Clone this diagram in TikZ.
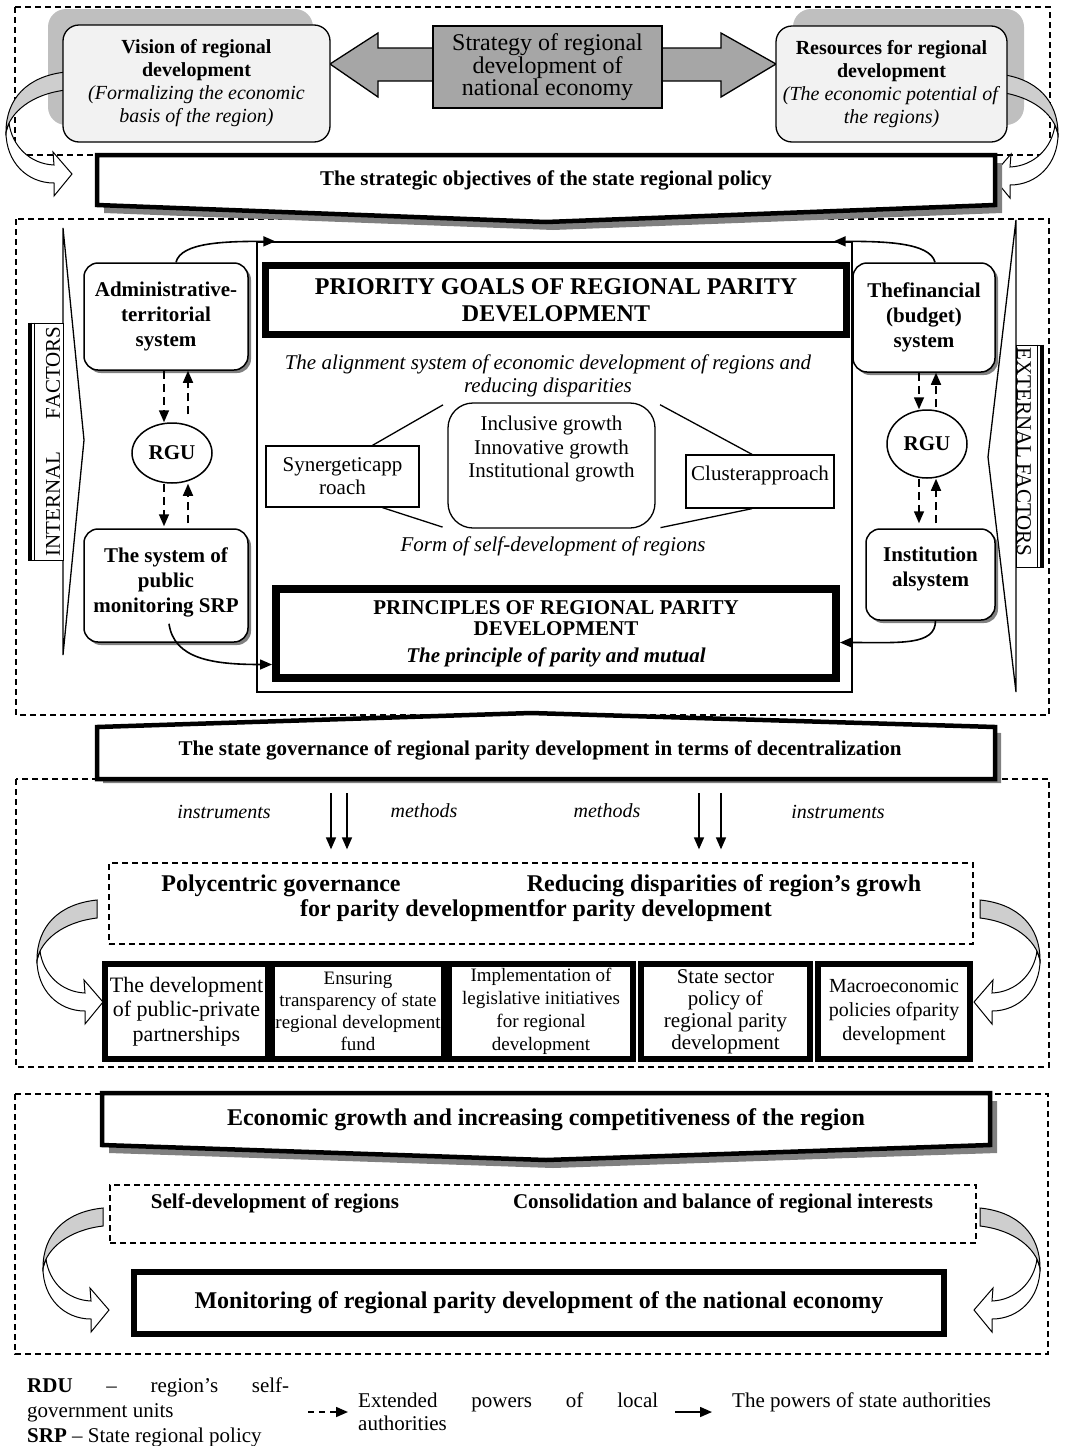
\documentclass[tikz,border=0pt]{standalone}
\usepackage{fontspec}
\setmainfont{Liberation Serif}
\usepackage{xcolor}
\usepackage{tikz}
\usetikzlibrary{arrows.meta,shadows,shapes.geometric}
\definecolor{panelgray}{RGB}{242,242,242}
\definecolor{blobgray}{RGB}{191,191,191}
\definecolor{blockgray}{RGB}{166,166,166}
\definecolor{curlgray}{RGB}{206,206,206}
\definecolor{shadowgray}{RGB}{128,128,128}

\tikzset{
  dashframe/.style={draw, dash pattern=on 6pt off 4pt, line width=1.3pt},
  softbox/.style={draw, fill=panelgray, rounded corners=16pt, line width=1.3pt, align=center, font=\fontsize{20}{23}\selectfont},
  unitbox/.style={draw, fill=white, rounded corners=14pt, line width=1.5pt, align=center, font=\bfseries\fontsize{21}{25}\selectfont, drop shadow={shadow xshift=3pt, shadow yshift=-3pt, fill=shadowgray, opacity=1}},
  rguoval/.style={draw, ellipse, fill=white, line width=1.5pt, inner sep=0pt, font=\bfseries\fontsize{21}{21}\selectfont},
  heavybox/.style={draw, fill=white, line width=6pt, align=center},
  thinbox/.style={draw, line width=1.3pt, align=center, font=\fontsize{21}{23}\selectfont},
  chevronbox/.style={draw, fill=white, line width=4.5pt},
  powerarrow/.style={line width=1.6pt, -{Triangle[length=12pt,width=10pt]}},
  localarrow/.style={powerarrow, dash pattern=on 8pt off 5pt},
  bendarrow/.pic={
    \draw[fill=white, line width=1pt] (-66,-42) .. controls (-66,-12) and (-45,9) .. (-18,9) -- (-18,22) -- (0,0) -- (-19,-22) -- (-18,-9) .. controls (-42,-10) and (-60,-28) .. (-63,-51) -- cycle;
    \draw[fill=curlgray, line width=1pt] (-6,-102) .. controls (-45,-98) and (-66,-75) .. (-66,-42) .. controls (-62,-62) and (-40,-80) .. (-6,-84) -- cycle;
  }
}

\begin{document}
\begin{tikzpicture}[x=1pt, y=-1pt]
\useasboundingbox (0,0) rectangle (1066,1446);

% Dashed frames of the four blocks
\draw[dashframe] (15,7) rectangle (1050,155);
\draw[dashframe] (16,219) rectangle (1049,715);
\draw[dashframe] (16,779) rectangle (1049,1067);
\draw[dashframe] (15,1094) rectangle (1048,1354);

% Strategy block
\fill[blobgray, rounded corners=18pt] (48,9) rectangle (313,125);
\fill[blobgray, rounded corners=18pt] (793,9) rectangle (1024,125);
\pic at (72,174) {bendarrow};
\pic[xscale=-1] at (992,176) {bendarrow};
\draw[fill=blockgray, line width=1.3pt] (330,64) -- (378,33) -- (378,48) -- (721,48) -- (721,33) -- (776,64) -- (721,97) -- (721,81) -- (378,81) -- (378,97) -- cycle;
\node[softbox, minimum width=267, minimum height=117] (vision) at (196.5,83.5) {\textbf{Vision of regional}\\\textbf{development}\\\textit{(Formalizing the economic}\\\textit{basis of the region)}};
\node[softbox, minimum width=231, minimum height=116] (resources) at (891.5,84) {\textbf{Resources for regional}\\\textbf{development}\\\textit{(The economic potential of}\\\textit{the regions)}};
\node[draw, fill=blockgray, line width=1.3pt, minimum width=229, minimum height=82, align=center, font=\fontsize{24}{22}\selectfont] (strategy) at (547.5,67) {Strategy of regional\\development of\\national economy};

% Strategic objectives
\fill[shadowgray] (104,163) -- (1002,163) -- (1002,213) -- (553,230) -- (104,213) -- cycle;
\draw[chevronbox] (97,155) -- (995,155) -- (995,205) -- (546,222) -- (97,205) -- cycle;
\node[font=\bfseries\fontsize{21}{23}\selectfont] (objectives) at (546,180) {The strategic objectives of the state regional policy};

% Internal and external factors
\draw[line width=1.3pt] (63,228) -- (84,440) -- (63,655) -- cycle;
\node[draw, fill=white, line width=1pt, minimum width=34, minimum height=237] (internal) at (46,441.5) {};
\draw[line width=3.5pt] ([xshift=1.5pt]internal.north west) -- ([xshift=1.5pt]internal.south west);
\draw[line width=1pt] ([xshift=6pt]internal.north west) -- ([xshift=6pt]internal.south west);
\node[rotate=90, font=\fontsize{21}{21}\selectfont] (internaltext) at (53,441.5) {\makebox[230pt]{INTERNAL\hfill FACTORS}};
\draw[line width=1.3pt] (1016,220) -- (988,457) -- (1016,692) -- cycle;
\node[draw, fill=white, line width=1pt, minimum width=27, minimum height=222] (external) at (1029.5,456) {};
\draw[line width=3.5pt] ([xshift=-1.5pt]external.north east) -- ([xshift=-1.5pt]external.south east);
\draw[line width=1pt] ([xshift=-6pt]external.north east) -- ([xshift=-6pt]external.south east);
\node[rotate=-90, font=\fontsize{21}{21}\selectfont] (externaltext) at (1024,452) {EXTERNAL FACTORS};

% Core of the concept
\node[draw, line width=1.3pt, minimum width=595, minimum height=450] (core) at (554.5,467) {};
\node[heavybox, line width=7pt, minimum width=581, minimum height=69, font=\bfseries\fontsize{24}{27}\selectfont] (priority) at (556,300) {PRIORITY GOALS OF REGIONAL PARITY\\DEVELOPMENT};
\node[align=center, font=\itshape\fontsize{21}{23}\selectfont] (alignment) at (548,376) {The alignment system of economic development of regions and\\reducing disparities};
\node[thinbox, minimum width=153, minimum height=61] (synergy) at (342.5,476.5) {Synergeticapp\\roach};
\node[draw, line width=1.3pt, rounded corners=25pt, minimum width=207, minimum height=125] (growth) at (551.5,465.5) {};
\node[align=center, font=\fontsize{21}{23.5}\selectfont] (growthtext) at (551.5,449) {Inclusive growth\\Innovative growth\\Institutional growth};
\node[thinbox, minimum width=148, minimum height=53] (cluster) at (760,481.5) {};
\node[font=\fontsize{21}{23}\selectfont] (clustertext) at (760,475) {Clusterapproach};
\draw[line width=1.3pt, shorten >=5pt] ([xshift=30pt]synergy.north) -- (growth.north west);
\draw[line width=1.3pt, shorten >=5pt] ([xshift=40pt]synergy.south) -- (growth.south west);
\draw[line width=1.3pt, shorten >=5pt] ([xshift=-8pt]cluster.north) -- (growth.north east);
\draw[line width=1.3pt, shorten >=5pt] ([xshift=-8pt]cluster.south) -- (growth.south east);
\node[font=\itshape\fontsize{21}{23}\selectfont] (selfform) at (553,546) {Form of self-development of regions};
\node[heavybox, line width=8pt, minimum width=560, minimum height=89, font=\bfseries\fontsize{21}{21}\selectfont] (principles) at (556,633.5) {PRINCIPLES OF REGIONAL PARITY\\DEVELOPMENT\\[6pt]\textit{The principle of parity and mutual}};

% Units of the left side
\node[unitbox, minimum width=164, minimum height=107] (admin) at (166,316.5) {Administrative-\\territorial\\system};
\node[rguoval, minimum width=80, minimum height=60] (rguleft) at (172,453) {RGU};
\node[unitbox, minimum width=164, minimum height=113] (monitor) at (166,585.5) {The system of\\public\\monitoring SRP\\[-14pt]};
\draw[localarrow] ([xshift=-2pt]admin.south) -- ([xshift=-8pt]rguleft.north);
\draw[localarrow] ([xshift=16pt,yshift=8pt]rguleft.north) -- ([xshift=22pt]admin.south);
\draw[localarrow] ([xshift=-8pt]rguleft.south) -- ([xshift=-2pt,yshift=2pt]monitor.north);
\draw[localarrow] ([xshift=22pt,yshift=5pt]monitor.north) -- ([xshift=16pt]rguleft.south);
\draw[powerarrow] ([xshift=10pt]admin.north) .. controls +(5,-20) and +(-50,0) .. ([xshift=19pt]core.north west);
\draw[powerarrow] ([xshift=3pt,yshift=19pt]monitor.south) .. controls +(5,35) and +(-60,0) .. ([yshift=-31pt]principles.west);

% Units of the right side
\node[unitbox, minimum width=142, minimum height=109] (finance) at (924,317.5) {Thefinancial\\(budget)\\system};
\node[rguoval, minimum width=80, minimum height=68] (rguright) at (927,444) {RGU};
\node[unitbox, minimum width=129, minimum height=91] (institution) at (930.5,574.5) {Institution\\alsystem\\[-10pt]};
\draw[localarrow] ([xshift=-5pt]finance.south) -- ([xshift=-8pt]rguright.north);
\draw[localarrow] ([xshift=9pt,yshift=2pt]rguright.north) -- ([xshift=12pt]finance.south);
\draw[localarrow] ([xshift=-8pt]rguright.south) -- ([xshift=-11.5pt,yshift=5pt]institution.north);
\draw[localarrow] ([xshift=5.5pt,yshift=5pt]institution.north) -- ([xshift=9pt]rguright.south);
\draw[powerarrow] ([xshift=11pt]finance.north) .. controls +(-5,-20) and +(50,0) .. ([xshift=-19pt]core.north east);
\draw[powerarrow] ([xshift=5pt]institution.south) .. controls +(0,25) and +(60,0) .. ([yshift=-9pt]principles.east);

% State governance
\fill[shadowgray] (103,733) -- (537,719) -- (1001,733) -- (1001,783) -- (103,783) -- cycle;
\draw[chevronbox] (97,727) -- (531,713) -- (995,727) -- (995,779) -- (97,779) -- cycle;
\node[font=\bfseries\fontsize{21}{23}\selectfont] (governance) at (540,750) {The state governance of regional parity development in terms of decentralization};
\node[font=\itshape\fontsize{20}{23}\selectfont] (instrleft) at (224,812) {instruments};
\node[font=\itshape\fontsize{20}{23}\selectfont] (methleft) at (424,811) {methods};
\node[font=\itshape\fontsize{20}{23}\selectfont] (methright) at (607,811) {methods};
\node[font=\itshape\fontsize{20}{23}\selectfont] (instrright) at (838,812) {instruments};
\node[dashframe, minimum width=864, minimum height=81] (policy) at (541,903.5) {};
\draw[powerarrow, shorten >=13pt] (331,793) -- (331,793 |- policy.north);
\draw[powerarrow, shorten >=13pt] (347,793) -- (347,793 |- policy.north);
\draw[powerarrow, shorten >=13pt] (699,793) -- (699,793 |- policy.north);
\draw[powerarrow, shorten >=13pt] (721,793) -- (721,793 |- policy.north);
\node[font=\bfseries\fontsize{24}{24}\selectfont] (polycentric) at (281,886) {Polycentric governance};
\node[font=\bfseries\fontsize{24}{24}\selectfont] (disparities) at (724,886) {Reducing disparities of region’s growh};
\node[font=\bfseries\fontsize{24}{24}\selectfont] (paritytext) at (536,911) {for parity developmentfor parity development};
\pic at (103,1002) {bendarrow};
\pic[xscale=-1] at (974,1002) {bendarrow};

% Instruments and methods
\node[heavybox, minimum width=163, minimum height=95, font=\fontsize{22}{24.5}\selectfont] (partnership) at (186.5,1011.5) {The development\\of public-private\\partnerships};
\node[heavybox, minimum width=164, minimum height=95, font=\fontsize{19}{22}\selectfont] (transparency) at (358,1011.5) {Ensuring\\transparency of state\\regional development\\fund};
\node[heavybox, minimum width=184, minimum height=95, font=\fontsize{19}{23}\selectfont] (legislation) at (541,1011.5) {Implementation of\\legislative initiatives\\for regional\\development};
\node[heavybox, minimum width=169, minimum height=95, font=\fontsize{21}{22}\selectfont] (sectorpolicy) at (725.5,1011.5) {State sector\\policy of\\regional parity\\development};
\node[heavybox, minimum width=152, minimum height=95, font=\fontsize{20}{24}\selectfont] (macropolicy) at (894,1011.5) {Macroeconomic\\policies ofparity\\development};

% Results
\fill[shadowgray] (109,1101) -- (997,1101) -- (997,1153) -- (553,1168) -- (109,1153) -- cycle;
\draw[chevronbox] (102,1093) -- (990,1093) -- (990,1145) -- (546,1160) -- (102,1145) -- cycle;
\node[font=\bfseries\fontsize{24}{24}\selectfont] (competitiveness) at (546,1120) {Economic growth and increasing competitiveness of the region};
\node[dashframe, minimum width=866, minimum height=58] (balance) at (543,1214) {};
\node[font=\bfseries\fontsize{21}{21}\selectfont] (selfdev) at (275,1203) {Self-development of regions};
\node[font=\bfseries\fontsize{21}{21}\selectfont] (consolidation) at (723,1203) {Consolidation and balance of regional interests};
\pic at (109,1310) {bendarrow};
\pic[xscale=-1] at (974,1310) {bendarrow};
\node[heavybox, minimum width=810, minimum height=62, font=\bfseries\fontsize{24}{24}\selectfont] (monitoring) at (539,1303) {Monitoring of regional parity development of the national economy};

% Legend
\node[anchor=north west, inner sep=0pt, text width=262, align=justify, font=\fontsize{21}{25}\selectfont] (abbrev) at (27,1377) {\tolerance=10000 \textbf{RDU} -- region’s self-government units\\\textbf{SRP} -- State regional policy};
\coordinate (dashkey) at (308,1412);
\draw[localarrow, dash pattern=on 6pt off 5pt] (dashkey) -- ++(40,0);
\node[anchor=north west, inner sep=0pt, text width=300, align=justify, font=\fontsize{21}{23}\selectfont] (extended) at (358,1392) {\tolerance=10000 Extended powers of local\linebreak authorities};
\coordinate (solidkey) at (675,1412);
\draw[powerarrow] (solidkey) -- ++(37,0);
\node[anchor=north west, inner sep=0pt, font=\fontsize{21}{23}\selectfont] (statepowers) at (732,1392) {The powers of state authorities};
\end{tikzpicture}
\end{document}
